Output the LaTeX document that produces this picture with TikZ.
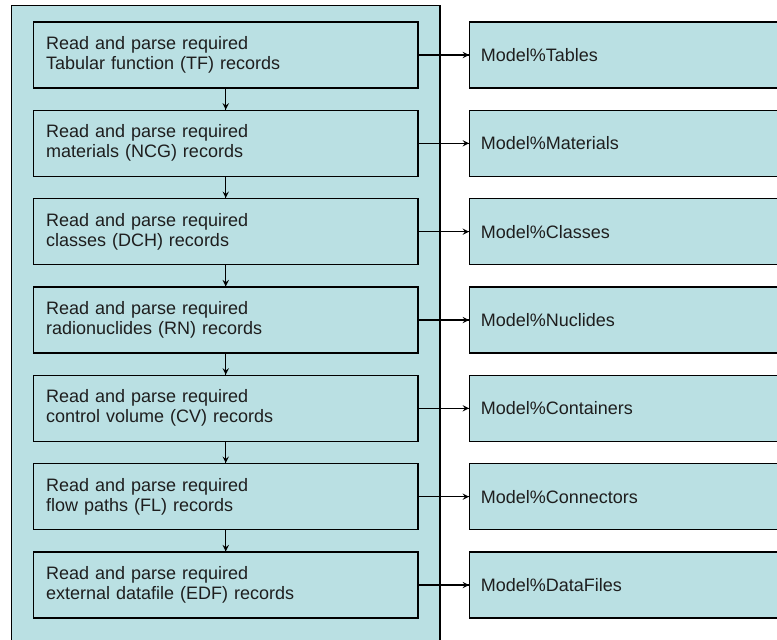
\documentclass[tikz,border=0pt]{standalone}
\usepackage{fontspec}
\setmainfont{Liberation Sans}
\usetikzlibrary{decorations.markings}
\definecolor{boxfill}{RGB}{186,224,227}
\definecolor{boxtext}{RGB}{30,30,30}
\tikzset{->/.style = {decoration={markings, mark=at position 1 with {\arrow[scale=1]{stealth}}}, postaction={decorate}}}
\tikzset{leftbox/.style = {draw, fill=boxfill, line width=1.1pt, minimum width=288.4pt, minimum height=49.5pt,
                           inner xsep=9.4pt, inner ysep=0pt, text width=269.6pt, align=left, text=boxtext,
                           font=\fontsize{13.5}{15}\selectfont},
         rightbox/.style = {draw, fill=boxfill, line width=1.1pt, minimum width=300pt, minimum height=49.5pt,
                           inner xsep=8.3pt, inner ysep=0pt, text width=283.4pt, align=left, text=boxtext,
                           font=\fontsize{13.5}{15}\selectfont, anchor=west}}

\begin{document}
\begin{tikzpicture}[x=0.75pt, y=-0.75pt, line width=1.1pt]
\useasboundingbox (0,0) rectangle (777,639);
\clip (0,0) rectangle (777,639);
% outer frame of the reader
\draw [fill=boxfill] (11.5,5.5) rectangle (440,700);
\coordinate (reader) at (225.75,5.5);
% parsing steps
\node [leftbox] (tf)  at (225.75,55)    {Read and parse required\\Tabular function (TF) records};
\node [leftbox] (ncg) at (225.75,143.3) {Read and parse required\\materials (NCG) records};
\node [leftbox] (dch) at (225.75,231.7) {Read and parse required\\classes (DCH) records};
\node [leftbox] (rn)  at (225.75,320)   {Read and parse required\\radionuclides (RN) records};
\node [leftbox] (cv)  at (225.75,408.3) {Read and parse required\\control volume (CV) records};
\node [leftbox] (fl)  at (225.75,496.7) {Read and parse required\\flow paths (FL) records};
\node [leftbox] (edf) at (225.75,585)   {Read and parse required\\external datafile (EDF) records};
% model structures
\node [rightbox] (tables)     at (469,55)    {Model\%Tables};
\node [rightbox] (materials)  at (469,143.3) {Model\%Materials};
\node [rightbox] (classes)    at (469,231.7) {Model\%Classes};
\node [rightbox] (nuclides)   at (469,320)   {Model\%Nuclides};
\node [rightbox] (containers) at (469,408.3) {Model\%Containers};
\node [rightbox] (connectors) at (469,496.7) {Model\%Connectors};
\node [rightbox] (datafiles)  at (469,585)   {Model\%DataFiles};
% sequence
\draw [->] (tf) -- (ncg);
\draw [->] (ncg) -- (dch);
\draw [->] (dch) -- (rn);
\draw [->] (rn) -- (cv);
\draw [->] (cv) -- (fl);
\draw [->] (fl) -- (edf);
% outputs
\draw [->] (tf) -- (tables);
\draw [->] (ncg) -- (materials);
\draw [->] (dch) -- (classes);
\draw [->] (rn) -- (nuclides);
\draw [->] (cv) -- (containers);
\draw [->] (fl) -- (connectors);
\draw [->] (edf) -- (datafiles);
\end{tikzpicture}
\end{document}
